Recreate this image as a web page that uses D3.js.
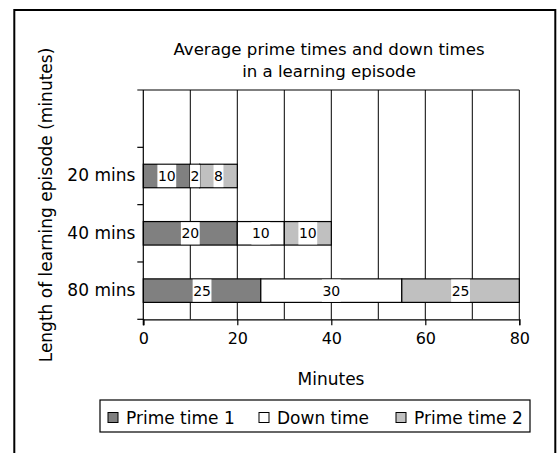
<!DOCTYPE html>
<html>
<head>
<meta charset="utf-8">
<script src="https://cdn.jsdelivr.net/npm/d3@7"></script>
<style>
  body { margin: 0; background: #fff; }
  text { font-family: "DejaVu Sans", sans-serif; fill: #000; }
</style>
</head>
<body>
<div id="chart"></div>
<script>
const categories = ["", "20 mins", "40 mins", "80 mins"];
const episodes = ["20 mins", "40 mins", "80 mins"];
const primeTime1 = [10, 20, 25];
const downTime = [2, 10, 30];
const primeTime2 = [8, 10, 25];
const seriesNames = ["Prime time 1", "Down time", "Prime time 2"];
const seriesColors = ["#808080", "#ffffff", "#c0c0c0"];
const xTicks = [0, 20, 40, 60, 80];

const width = 557, height = 453;
const plot = { left: 143.3, right: 519.3, top: 90, bottom: 319.3 };

const svg = d3.select("#chart").append("svg")
  .attr("width", width)
  .attr("height", height);

// outer chart border (runs off the bottom of the picture)
svg.append("rect")
  .attr("x", 14.3).attr("y", 10)
  .attr("width", 541).attr("height", 460)
  .attr("fill", "none")
  .attr("stroke", "#000")
  .attr("stroke-width", 2);

const xScale = d3.scaleLinear().domain([0, 80]).range([plot.left, plot.right]);
const yScale = d3.scaleBand().domain(categories).range([plot.top, plot.bottom]);
const barH = yScale.bandwidth() * 0.41;

// vertical gridlines every 10 minutes
svg.append("g").selectAll("line")
  .data(d3.range(10, 90, 10))
  .enter().append("line")
  .attr("x1", d => xScale(d)).attr("x2", d => xScale(d))
  .attr("y1", plot.top).attr("y2", plot.bottom)
  .attr("stroke", "#000").attr("stroke-width", 1);

// stacked segments
const stacked = episodes.map((ep, i) => {
  const vals = [primeTime1[i], downTime[i], primeTime2[i]];
  let start = 0;
  return vals.map((v, k) => {
    const seg = { ep, k, v, x0: start, x1: start + v };
    start += v;
    return seg;
  });
}).flat();

svg.append("g").selectAll("rect")
  .data(stacked)
  .enter().append("rect")
  .attr("x", d => xScale(d.x0))
  .attr("y", d => yScale(d.ep) + (yScale.bandwidth() - barH) / 2)
  .attr("width", d => xScale(d.x1) - xScale(d.x0))
  .attr("height", barH)
  .attr("fill", d => seriesColors[d.k])
  .attr("stroke", "#000")
  .attr("stroke-width", 1.2);

// value labels on white boxes
const labels = svg.append("g");
stacked.forEach(d => {
  const cx = (xScale(d.x0) + xScale(d.x1)) / 2;
  const cy = yScale(d.ep) + yScale.bandwidth() / 2;
  const t = labels.append("text")
    .attr("x", cx).attr("y", cy)
    .attr("dy", "0.36em")
    .attr("text-anchor", "middle")
    .attr("font-size", "14px")
    .text(d.v);
  const w = t.node().getComputedTextLength() + 1;
  labels.insert("rect", "text")
    .attr("x", cx - w / 2).attr("y", cy - barH / 2 + 0.6)
    .attr("width", w).attr("height", barH - 1.2)
    .attr("fill", "#fff");
});

// x axis
const xAxis = svg.append("g")
  .attr("transform", `translate(0,${plot.bottom})`)
  .call(d3.axisBottom(xScale).tickValues(xTicks).tickSize(6).tickPadding(7));
xAxis.select(".domain").attr("stroke", "#000").attr("stroke-width", 1.2);
xAxis.selectAll(".tick line").attr("stroke", "#000").attr("stroke-width", 1.2);
xAxis.selectAll("text").attr("font-size", "16px").attr("font-family", "DejaVu Sans");

// y axis (category labels)
const yAxis = svg.append("g")
  .attr("transform", `translate(${plot.left},0)`)
  .call(d3.axisLeft(yScale).tickSize(0).tickPadding(8));
yAxis.select(".domain").remove();
yAxis.selectAll("text").attr("font-size", "17px").attr("font-family", "DejaVu Sans");

svg.append("line")
  .attr("x1", plot.left).attr("x2", plot.left)
  .attr("y1", plot.top).attr("y2", plot.bottom + 6)
  .attr("stroke", "#000").attr("stroke-width", 1.2);

// category boundary ticks
svg.append("g").selectAll("line")
  .data(categories)
  .enter().append("line")
  .attr("x1", plot.left - 6).attr("x2", plot.left)
  .attr("y1", d => yScale(d) + yScale.bandwidth())
  .attr("y2", d => yScale(d) + yScale.bandwidth())
  .attr("stroke", "#000").attr("stroke-width", 1.2);

// top edge of plot
svg.append("line")
  .attr("x1", plot.left - 6).attr("x2", plot.right)
  .attr("y1", plot.top).attr("y2", plot.top)
  .attr("stroke", "#000").attr("stroke-width", 1.2);

// title
svg.append("text")
  .attr("x", 329).attr("y", 55)
  .attr("text-anchor", "middle")
  .attr("font-size", "16.6px")
  .text("Average prime times and down times");
svg.append("text")
  .attr("x", 329).attr("y", 77)
  .attr("text-anchor", "middle")
  .attr("font-size", "16.6px")
  .text("in a learning episode");

// axis titles
svg.append("text")
  .attr("x", 331).attr("y", 385)
  .attr("text-anchor", "middle")
  .attr("font-size", "17px")
  .text("Minutes");

svg.append("text")
  .attr("transform", "rotate(-90)")
  .attr("x", -205).attr("y", 52)
  .attr("text-anchor", "middle")
  .attr("font-size", "17px")
  .text("Length of learning episode (minutes)");

// legend
const legend = svg.append("g");
legend.append("rect")
  .attr("x", 100).attr("y", 400)
  .attr("width", 430).attr("height", 32)
  .attr("fill", "#fff")
  .attr("stroke", "#000").attr("stroke-width", 1.2);

const legendX = [108, 259, 396];
seriesNames.forEach((name, k) => {
  legend.append("rect")
    .attr("x", legendX[k]).attr("y", 412.5)
    .attr("width", 10).attr("height", 10)
    .attr("fill", seriesColors[k])
    .attr("stroke", "#000").attr("stroke-width", 1);
  legend.append("text")
    .attr("x", legendX[k] + 18).attr("y", 424)
    .attr("font-size", "17px")
    .text(name);
});
</script>
</body>
</html>
